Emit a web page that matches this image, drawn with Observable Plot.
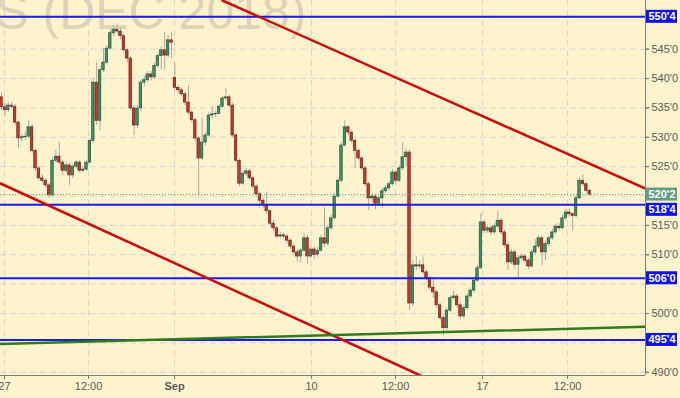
<!DOCTYPE html>
<html><head><meta charset="utf-8">
<script src="https://cdn.jsdelivr.net/npm/d3@7"></script>
<script src="https://cdn.jsdelivr.net/npm/@observablehq/plot@0.6"></script>
<style>
html,body{margin:0;padding:0;background:#fef3cd;overflow:hidden;}
svg{display:block;font-family:"Liberation Sans",Arial,sans-serif;}
</style></head><body><div id="chart"></div>
<script>
const openP = [
536.8,535.1,534.6,535.4,535.2,532.5,529.8,530.0,530.1,531.7,
527.7,524.7,523.0,522.6,521.8,520.1,526.0,526.7,525.7,524.3,
525.2,523.5,525.0,525.7,524.3,524.5,525.7,529.4,539.3,532.8,
541.4,542.7,545.1,547.7,548.3,548.0,547.2,544.8,543.4,534.9,
532.0,534.9,539.3,539.7,540.7,540.2,542.1,543.8,544.8,543.9,
546.5,540.1,538.4,538.0,537.3,535.9,534.2,532.9,529.8,526.4,
529.1,530.3,533.7,533.9,534.0,535.2,536.6,536.8,535.4,530.3,
526.0,522.1,523.8,524.2,523.0,521.6,520.3,519.2,518.4,517.4,
515.3,514.5,513.1,513.3,513.1,512.4,511.4,510.4,509.7,510.7,
512.8,509.7,510.9,510.0,510.7,512.8,511.9,514.5,516.2,519.9,
522.6,528.6,531.7,530.8,529.4,527.7,526.4,524.7,522.0,519.6,
519.9,518.7,519.6,520.8,521.3,522.0,524.0,522.6,524.7,526.6,
527.4,501.7,508.2,508.0,508.2,507.0,506.0,504.4,503.6,501.4,
499.2,497.5,500.5,502.6,502.9,501.4,499.5,500.9,502.9,503.9,
505.6,507.7,515.5,514.1,514.5,513.8,514.8,515.8,513.8,511.6,
508.7,510.4,508.3,509.4,509.7,509.0,508.0,510.4,511.4,512.8,
510.4,511.8,512.8,513.8,514.8,514.5,516.2,517.2,516.9,516.6,
519.6,522.6,522.0,520.9];
const closeP = [
535.1,534.6,535.4,535.2,532.5,529.8,530.0,530.1,531.7,527.7,
524.7,523.0,522.6,521.8,520.1,526.0,526.7,525.7,524.3,525.2,
523.5,525.0,525.7,524.3,524.5,525.7,529.4,539.3,532.8,541.4,
542.7,545.1,547.7,548.3,548.0,547.2,544.8,543.4,534.9,532.0,
534.9,539.3,539.7,540.7,540.2,542.1,543.8,544.8,543.9,546.5,
546.1,538.4,538.0,537.3,535.9,534.2,532.9,529.8,526.4,529.1,
530.3,533.7,533.9,534.0,535.2,536.6,536.8,535.4,530.3,526.0,
522.1,523.8,524.2,523.0,521.6,520.3,519.2,518.4,517.4,515.3,
514.5,513.1,513.3,513.1,512.4,511.4,510.4,509.7,510.7,512.8,
509.7,510.9,510.0,510.7,512.8,511.9,514.5,516.2,519.9,522.6,
528.6,531.7,530.8,529.4,527.7,526.4,524.7,522.0,519.6,519.9,
518.7,519.6,520.8,521.3,522.0,524.0,522.6,524.7,526.6,527.4,
501.7,508.2,508.0,508.2,507.0,506.0,504.4,503.6,501.4,499.2,
497.5,500.5,502.6,502.9,501.4,499.5,500.9,502.9,503.9,505.6,
507.7,515.5,514.1,514.5,513.8,514.8,515.8,513.8,511.6,508.7,
510.4,508.3,509.4,509.7,509.0,508.0,510.4,511.4,512.8,510.4,
511.8,512.8,513.8,514.8,514.5,516.2,517.2,516.9,516.6,519.6,
522.6,522.0,520.9,520.25];
const highP = [
537.6,535.8,535.9,536.0,535.6,532.8,530.5,530.9,532.9,532.2,
528.0,525.0,523.6,523.0,522.1,526.4,527.8,529.1,526.0,525.8,
525.6,525.4,526.1,526.0,524.9,526.0,529.8,539.8,542.7,542.0,
545.1,545.6,548.2,549.0,549.3,548.5,547.6,545.2,543.8,535.3,
535.4,539.7,540.4,541.2,541.2,542.6,544.3,545.4,547.8,547.3,
547.8,542.6,538.8,538.4,537.6,538.8,534.6,533.2,530.2,533.2,
530.8,534.2,535.2,534.5,535.6,537.0,538.3,537.2,535.8,530.6,
526.3,524.2,524.7,524.5,523.3,521.9,520.6,519.6,520.6,517.7,
515.9,514.8,513.8,513.7,513.4,512.7,511.7,510.8,511.1,513.5,
513.3,511.4,511.3,511.2,513.3,518.0,515.0,516.7,520.4,523.0,
529.0,532.9,532.0,531.2,529.7,528.0,526.7,525.0,522.4,520.4,
520.2,520.0,521.3,521.8,522.5,524.5,524.3,525.2,529.1,528.0,
527.8,509.0,509.7,509.0,509.6,507.4,506.3,505.9,504.0,501.8,
499.6,500.9,503.0,503.8,503.3,501.8,501.4,503.4,504.4,506.2,
508.2,517.0,515.9,515.0,514.9,515.3,517.5,516.2,514.2,512.0,
510.9,510.8,509.9,510.1,510.0,509.4,510.9,512.6,513.3,513.2,
512.3,513.2,514.3,515.2,515.3,516.7,517.7,517.8,517.2,520.0,
523.1,523.6,522.3,521.1];
const lowP = [
534.6,533.5,534.2,534.8,532.0,528.1,529.2,529.5,529.8,527.2,
524.2,522.6,522.1,521.3,519.6,519.9,525.6,525.3,523.5,523.9,
521.8,523.0,524.6,523.9,524.0,524.2,525.4,529.0,532.0,531.1,
541.0,542.3,544.9,547.2,547.5,546.6,544.3,542.6,534.4,530.3,
531.5,534.3,538.6,539.3,539.6,539.9,541.8,541.5,541.4,543.5,
543.4,538.0,537.4,536.9,535.4,533.8,532.4,529.3,519.8,526.0,
528.5,530.0,533.2,533.3,533.8,535.0,536.2,535.0,529.9,525.6,
521.6,521.8,523.4,522.6,521.2,519.9,518.0,517.9,516.9,514.8,
514.0,512.7,512.8,512.7,511.9,510.9,509.9,508.7,508.6,510.4,
508.4,509.3,509.2,509.6,510.4,511.3,511.5,514.1,515.9,519.6,
522.3,528.3,530.3,529.0,524.7,526.0,524.3,521.6,517.5,518.9,
517.7,518.3,517.8,520.4,520.9,521.7,522.0,522.3,524.3,525.0,
500.5,501.2,507.3,507.5,506.6,505.6,503.9,502.6,500.9,498.7,
496.3,497.0,500.2,502.3,500.9,499.0,499.1,500.5,502.6,503.5,
505.3,507.4,513.6,513.7,513.3,513.4,514.4,513.3,511.1,507.3,
508.3,507.5,506.1,509.0,508.6,507.5,507.7,510.0,511.0,508.1,
509.0,511.4,512.4,513.4,514.0,514.2,515.8,516.4,514.1,516.3,
519.3,521.6,520.5,519.9];

const xTickPos = [0.88, 25.6, 50.9, 91.2, 115.9, 141.5, 166.5];
const xTickLabels = ["27", "12:00", "Sep", "10", "12:00", "17", "12:00"];
const yTicks = [490, 495, 500, 505, 510, 515, 520, 525, 530, 535, 540, 545];
const yLabelTicks = [490, 500, 510, 515, 525, 530, 535, 540, 545];
const levels = [550.5, 518.5, 506, 495.5];
const levelLabels = ["550'4", "518'4", "506'0", "495'4"];
const lastPrice = 520.25;
const lastLabel = "520'2";
const upperChannel = [{i: 65, p: 553.28}, {i: 189.4, p: 521.28}];
const lowerChannel = [{i: -0.3, p: 522.13}, {i: 123.2, p: 489.45}];
const supportLine = [{i: -0.3, p: 494.83}, {i: 189.4, p: 497.75}];
const watermark = "ZS (DEC 2018)";

const candles = closeP.map((c, i) => ({i, open: openP[i], high: highP[i], low: lowP[i], close: c}));
const upC = candles.filter(d => d.close >= d.open);
const dnC = candles.filter(d => d.close < d.open);

const xDomain = [-0.294, 189.41];
const yDomain = [489.45, 553.28];

const plot = Plot.plot({
  width: 680, height: 398,
  marginLeft: 0, marginRight: 35, marginTop: 0, marginBottom: 23,
  style: {background: "#fef3cd", fontFamily: "'Liberation Sans', Arial, sans-serif", fontSize: "11px", overflow: "hidden"},
  x: {type: "linear", domain: xDomain, label: null},
  y: {type: "linear", domain: yDomain, label: null},
  marks: [
    Plot.text([watermark], {frameAnchor: "top-left", dx: 306, dy: 28, textAnchor: "end", lineAnchor: "bottom", fontSize: 50, fill: "#dcd3b9"}),
    Plot.gridY(yTicks, {stroke: "#d4d4d4", strokeOpacity: 1, strokeDasharray: "6,4"}),
    Plot.gridX(xTickPos, {stroke: "#d4d4d4", strokeOpacity: 1, strokeDasharray: "6,4"}),
    Plot.ruleX(candles, {x: "i", y1: "low", y2: "high", stroke: "#a8a8a8", strokeWidth: 1}),
    Plot.rect(upC, {x1: d => d.i - 0.5, x2: d => d.i + 0.5, insetLeft: 0.45, insetRight: 0.45, y1: "open", y2: "close", fill: "#3f8f62", stroke: "#1f4d33", strokeWidth: 0.6}),
    Plot.rect(dnC, {x1: d => d.i - 0.5, x2: d => d.i + 0.5, insetLeft: 0.45, insetRight: 0.45, y1: "open", y2: "close", fill: "#c4392c", stroke: "#5a1a12", strokeWidth: 0.6}),
    Plot.ruleY([lastPrice], {stroke: "#5fa388", strokeWidth: 1, strokeDasharray: "1.2,1.8"}),
    Plot.ruleY(levels, {stroke: "#1a1af0", strokeWidth: 2}),
    Plot.line(upperChannel, {x: "i", y: "p", stroke: "#cc0a0a", strokeWidth: 2.5, clip: true}),
    Plot.line(lowerChannel, {x: "i", y: "p", stroke: "#cc0a0a", strokeWidth: 2.5, clip: true}),
    Plot.line(supportLine, {x: "i", y: "p", stroke: "#337a1c", strokeWidth: 2.5, clip: true}),
    Plot.ruleX([xDomain[1]], {stroke: "#7d7d7d", strokeWidth: 1}),
    Plot.ruleY([yDomain[0]], {stroke: "#7d7d7d", strokeWidth: 1}),
    Plot.axisY(yTicks, {anchor: "right", tickSize: 3, text: null, stroke: "#777", label: null}),
    Plot.axisY(yLabelTicks, {anchor: "right", tickFormat: d => d + "'0", tickSize: 3, tickPadding: 3, fill: "#5a5a5a", stroke: "#777", fontSize: 11, label: null}),
    Plot.axisX(xTickPos, {anchor: "bottom", tickFormat: (d, k) => xTickLabels[k], tickSize: 4, tickPadding: 3, fill: "#5a5a5a", stroke: "#777", fontSize: 11, label: null})
  ]
});

const svg = d3.select(plot);
svg.selectAll("text").filter(function() { return this.textContent === "Sep"; }).attr("font-weight", "bold");
const ys = plot.scale("y");
const boxes = levels.map((v, k) => ({v, label: levelLabels[k], color: "#1010ee", shift: levelLabels[k] === "518'4" ? 5 : 0}));
boxes.push({v: lastPrice, label: lastLabel, color: "#5f9e82", shift: 0});
const g = svg.append("g").attr("text-anchor", "start");
boxes.forEach(b => {
  const yc = ys.apply(b.v) + b.shift;
  g.append("rect").attr("x", 646).attr("y", yc - 6.5).attr("width", 31).attr("height", 13).attr("fill", b.color);
  g.append("text").attr("x", 648.5).attr("y", yc).attr("dy", "0.36em").attr("fill", "white")
    .attr("text-anchor", "start").attr("font-size", 11).attr("font-weight", "bold").text(b.label);
});
document.getElementById("chart").appendChild(plot);
</script></body></html>
